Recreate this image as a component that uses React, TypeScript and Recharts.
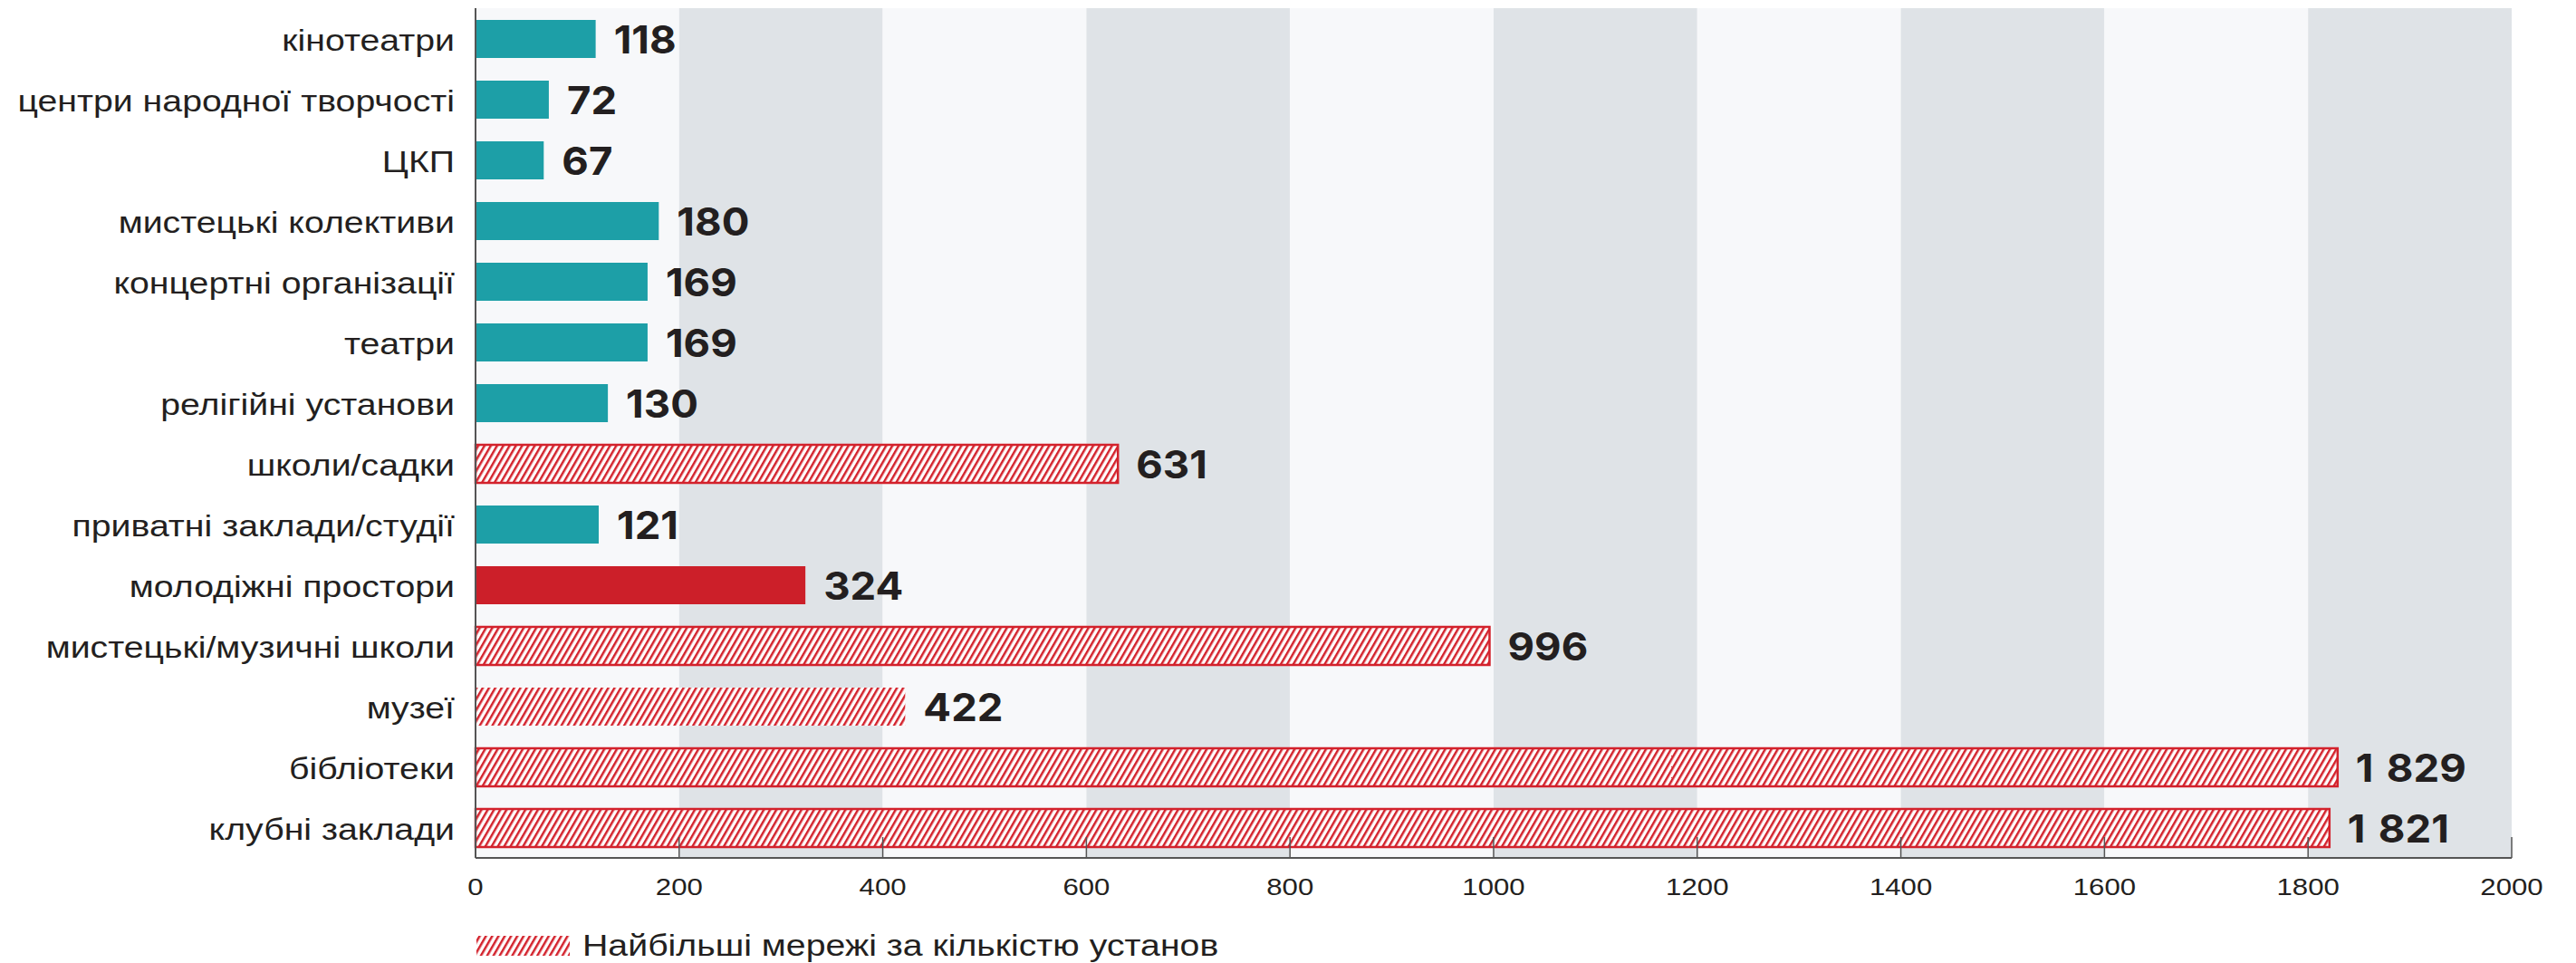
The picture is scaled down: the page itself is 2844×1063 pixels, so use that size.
import React from 'react';
import { BarChart, Bar, XAxis, YAxis, Cell, LabelList, ReferenceArea, Legend } from 'recharts';

const categories = [
  'кінотеатри',
  'центри народної творчості',
  'ЦКП',
  'мистецькі колективи',
  'концертні організації',
  'театри',
  'релігійні установи',
  'школи/садки',
  'приватні заклади/студії',
  'молодіжні простори',
  'мистецькі/музичні школи',
  'музеї',
  'бібліотеки',
  'клубні заклади',
];
const values = [118, 72, 67, 180, 169, 169, 130, 631, 121, 324, 996, 422, 1829, 1821];
const kinds = [
  'base', 'base', 'base', 'base', 'base', 'base', 'base',
  'largest', 'base', 'highlight', 'largest', 'largestNoOutline', 'largest', 'largest',
];
const xTicks = [0, 200, 400, 600, 800, 1000, 1200, 1400, 1600, 1800, 2000];
const legendLabel = 'Найбільші мережі за кількістю установ';

const data = categories.map((name, i) => ({ name, value: values[i], kind: kinds[i] }));
const bands = xTicks.slice(0, -1).map((t, i) => ({ x1: t, x2: xTicks[i + 1], dark: i % 2 === 1 }));

const TEAL = '#1d9fa7';
const RED = '#cc1f29';
const HATCH = '#d3222c';
const LIGHT = '#f7f8fa';
const DARK = '#dfe3e7';
const AXIS = '#555555';
const TEXT = '#231f20';
const LABEL_FONT = '"Liberation Sans", Arial, sans-serif';
const VALUE_FONT = 'Inter, "Liberation Sans", sans-serif';

const fmt = (v: number) =>
  v >= 1000 ? `${Math.floor(v / 1000)}\u2009\u2009${String(v % 1000).padStart(3, '0')}` : String(v);

const YTick = (props: any) => {
  const { x, y, payload } = props;
  return (
    <g transform={`translate(${x},${y + 13}) scale(1.155,1)`}>
      <text x={0} y={0} textAnchor="end" fontFamily={LABEL_FONT} fontSize={34} fill={TEXT}>
        {payload.value}
      </text>
    </g>
  );
};

const XTick = (props: any) => {
  const { x, y, payload } = props;
  return (
    <g>
      <line x1={x} x2={x} y1={y} y2={y - 23} stroke={AXIS} strokeWidth={1.5} />
      <g transform={`translate(${x},${y + 41}) scale(1.2,1)`}>
        <text x={0} y={0} textAnchor="middle" fontFamily={LABEL_FONT} fontSize={26} fill={TEXT}>
          {payload.value}
        </text>
      </g>
    </g>
  );
};

const ValueLabel = (props: any) => {
  const vb = props.viewBox || {};
  const bx = Number(props.x ?? vb.x);
  const by = Number(props.y ?? vb.y);
  const bw = Number(props.width ?? vb.width);
  const bh = Number(props.height ?? vb.height);
  const tx = bx + bw + 20;
  const ty = by + bh / 2 + 16;
  return (
    <g transform={`translate(${tx},${ty}) scale(1.06,1)`}>
      <text x={0} y={0} fontFamily={VALUE_FONT} fontWeight={700} fontSize={43} fill={TEXT}>
        {fmt(Number(props.value))}
      </text>
    </g>
  );
};

const LegendContent = () => (
  <svg width={1000} height={40} style={{ display: 'block' }}>
    <defs>
      <pattern id="hatchLegend" patternUnits="userSpaceOnUse" width="6" height="10" patternTransform="rotate(30)">
        <rect width="6" height="10" fill="#fff" />
        <rect x="0" width="2.5" height="10" fill={HATCH} />
      </pattern>
    </defs>
    <rect x={0} y={8} width={103} height={22} fill="url(#hatchLegend)" />
    <g transform="translate(117,30) scale(1.19,1)">
      <text x={0} y={0} fontFamily={LABEL_FONT} fontSize={33} fill={TEXT}>
        {legendLabel}
      </text>
    </g>
  </svg>
);

const cellStyle = (kind: string) => {
  if (kind === 'highlight') return { fill: RED, stroke: 'none', strokeWidth: 0 };
  if (kind === 'largest') return { fill: 'url(#hatch)', stroke: HATCH, strokeWidth: 2.5 };
  if (kind === 'largestNoOutline') return { fill: 'url(#hatch)', stroke: 'none', strokeWidth: 0 };
  return { fill: TEAL, stroke: 'none', strokeWidth: 0 };
};

export default function App() {
  return (
    <div style={{ position: 'absolute', left: 0, top: 0, width: 2844, height: 1063, background: '#fff' }}>
      <BarChart
        width={2844}
        height={1063}
        data={data}
        layout="vertical"
        margin={{ top: 9, right: 71, left: 0, bottom: 0 }}
        barSize={42}
      >
        <defs>
          <pattern id="hatch" patternUnits="userSpaceOnUse" width="6" height="10" patternTransform="rotate(30)">
            <rect width="6" height="10" fill="#fff" />
            <rect x="0" width="2.5" height="10" fill={HATCH} />
          </pattern>
        </defs>
        {bands.map((b) => (
          <ReferenceArea
            key={b.x1}
            x1={b.x1}
            x2={b.x2}
            fill={b.dark ? DARK : LIGHT}
            fillOpacity={1}
            stroke="none"
            ifOverflow="visible"
          />
        ))}
        <XAxis
          type="number"
          domain={[0, 2000]}
          ticks={xTicks}
          interval={0}
          height={116}
          tickSize={0}
          tickMargin={0}
          tickLine={false}
          axisLine={{ stroke: AXIS, strokeWidth: 2 }}
          tick={<XTick />}
        />
        <YAxis
          type="category"
          dataKey="name"
          width={525}
          tickSize={0}
          tickMargin={23}
          tickLine={false}
          interval={0}
          axisLine={{ stroke: AXIS, strokeWidth: 2 }}
          tick={<YTick />}
        />
        <Legend
          layout="horizontal"
          verticalAlign="middle"
          align="center"
          content={<LegendContent />}
          wrapperStyle={{ position: 'absolute', left: 526, top: 1025, width: 1000, height: 40 }}
        />
        <Bar dataKey="value" isAnimationActive={false}>
          {data.map((d, i) => {
            const s = cellStyle(d.kind);
            return <Cell key={i} fill={s.fill} stroke={s.stroke} strokeWidth={s.strokeWidth} />;
          })}
          <LabelList dataKey="value" content={<ValueLabel />} />
        </Bar>
      </BarChart>
    </div>
  );
}
